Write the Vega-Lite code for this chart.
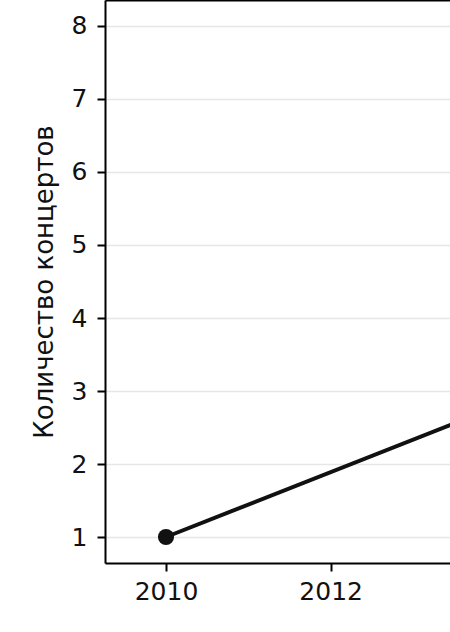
{
  "$schema": "https://vega.github.io/schema/vega-lite/v6.json",
  "width": 345,
  "height": 563,
  "autosize": {"type": "none"},
  "padding": {"left": 105, "top": 0, "right": 0, "bottom": 69},
  "background": "white",
  "config": {
    "view": {"stroke": null},
    "font": "DejaVu Sans",
    "axis": {
      "labelFont": "DejaVu Sans",
      "titleFont": "DejaVu Sans",
      "labelFontSize": 25,
      "titleFontSize": 26,
      "titleFontWeight": "normal",
      "labelColor": "#111111",
      "titleColor": "#111111",
      "domainColor": "#000000",
      "domainWidth": 2,
      "tickColor": "#000000",
      "tickWidth": 2,
      "tickSize": 8,
      "gridColor": "#e6e6e6",
      "gridWidth": 1.6
    }
  },
  "data": {"values": [
    {"year": 2010, "concerts": 1},
    {"year": 2019, "concerts": 5}
  ]},
  "layer": [
    {
      "mark": {"type": "line", "color": "#111111", "strokeWidth": 4, "clip": true},
      "encoding": {
        "x": {"field": "year", "type": "quantitative",
              "scale": {"domain": [2009.259, 2013.45], "nice": false, "zero": false},
              "axis": {"values": [2010, 2012], "format": "d", "grid": false, "title": null, "labelPadding": 8, "labelFlush": false}},
        "y": {"field": "concerts", "type": "quantitative",
              "scale": {"domain": [0.644, 8.356], "nice": false, "zero": false},
              "axis": {"values": [1, 2, 3, 4, 5, 6, 7, 8], "format": "d", "grid": true, "title": "Количество концертов", "labelPadding": 10, "titlePadding": 14, "labelFlush": false}}
      }
    },
    {
      "mark": {"type": "point", "filled": true, "color": "#111111", "size": 260, "opacity": 1, "clip": true},
      "encoding": {
        "x": {"field": "year", "type": "quantitative",
              "axis": {"orient": "top", "labels": false, "ticks": false, "grid": false, "title": null, "domain": true}},
        "y": {"field": "concerts", "type": "quantitative"}
      }
    }
  ],
  "resolve": {"axis": {"x": "independent"}}
}
